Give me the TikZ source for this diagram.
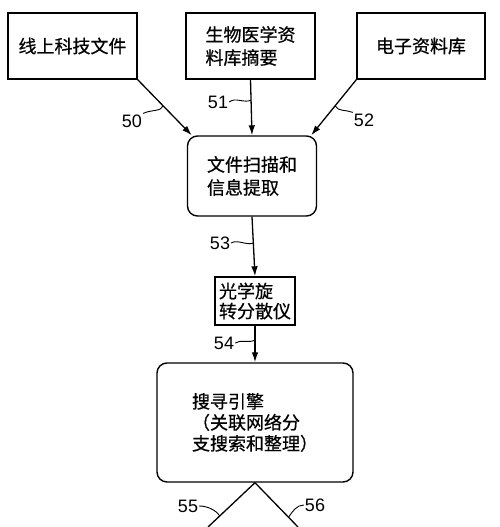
\documentclass[tikz,border=0pt]{standalone}
\usepackage{fontspec}
\setmainfont{Liberation Sans}
\newfontfamily\cjk{Noto Sans CJK SC}[FakeBold=0.6]
\usetikzlibrary{arrows.meta}

\begin{document}
\begin{tikzpicture}[
  x=1pt, y=-1pt,
  box/.style={draw, line width=1.4pt, align=left, font=\cjk\fontsize{18}{23}\selectfont, inner sep=2pt},
  rbox/.style={box, rounded corners=10pt},
  arr/.style={line width=1.3pt, -{Latex[length=10pt, width=6.5pt]}},
  link/.style={line width=1.3pt},
  num/.style={font=\fontsize{18}{18}\selectfont, inner sep=1pt},
  lead/.style={line width=0.9pt}
]
\useasboundingbox (0,0) rectangle (500,527);
\node[box, minimum width=129pt, minimum height=66pt] (online) at (72.5,46) {线上科技文件};
\node[box, minimum width=129pt, minimum height=66pt] (biomed) at (250.5,46) {生物医学资\\料库摘要};
\node[box, minimum width=128pt, minimum height=66pt] (edb) at (421,46) {电子资料库};
\node[rbox, minimum width=129pt, minimum height=80pt] (scan) at (252,176) {文件扫描和\\信息提取};
\node[box, minimum width=80pt, minimum height=48pt, font=\cjk\fontsize{18}{20}\selectfont] (ord) at (255,301) {光学旋\\转分散仪};
\node[rbox, minimum width=196pt, minimum height=119pt, font=\cjk\fontsize{18}{21}\selectfont] (search) at (255,422.5) {搜寻引擎\\（关联网络分\\支搜索和整理）};
\coordinate (out55) at (208,527);
\coordinate (out56) at (298,527);
\draw[arr] (online.south east) -- coordinate[pos=0.47] (p50) ([xshift=5pt]scan.north west);
\draw[arr] (biomed.south) -- coordinate[pos=0.37] (p51) (scan.north);
\draw[arr] (edb.south west) -- coordinate[pos=0.47] (p52) ([xshift=-6pt]scan.north east);
\draw[arr] (scan.south) -- coordinate[pos=0.44] (p53) (ord.north);
\draw[arr] (ord.south) -- coordinate[pos=0.4] (p54) (search.north);
\draw[link] (search.south) -- coordinate[pos=0.75] (p55) (out55);
\draw[link] (search.south) -- coordinate[pos=0.78] (p56) (out56);
\node[num] (l50) at (132,121) {50};
\node[num] (l51) at (218,102) {51};
\node[num] (l52) at (364,120) {52};
\node[num] (l53) at (220,243) {53};
\node[num] (l54) at (224,343) {54};
\node[num] (l55) at (188,506) {55};
\node[num] (l56) at (315,505) {56};
\draw[lead] (l50.north east) .. controls +(8,-4) and +(-2,6) .. (p50);
\draw[lead] (l51.east) .. controls +(6,-5) and +(-7,3) .. (p51);
\draw[lead] (l52.north west) .. controls +(-7,-3) and +(3,6) .. (p52);
\draw[lead] (l53.east) .. controls +(6,-4) and +(-6,3) .. (p53);
\draw[lead] (l54.east) .. controls +(6,-4) and +(-6,3) .. (p54);
\draw[lead] (l55.east) .. controls +(8,0) and +(-4,-6) .. (p55);
\draw[lead] (l56.west) .. controls +(-7,0) and +(4,-6) .. (p56);
\end{tikzpicture}
\end{document}
